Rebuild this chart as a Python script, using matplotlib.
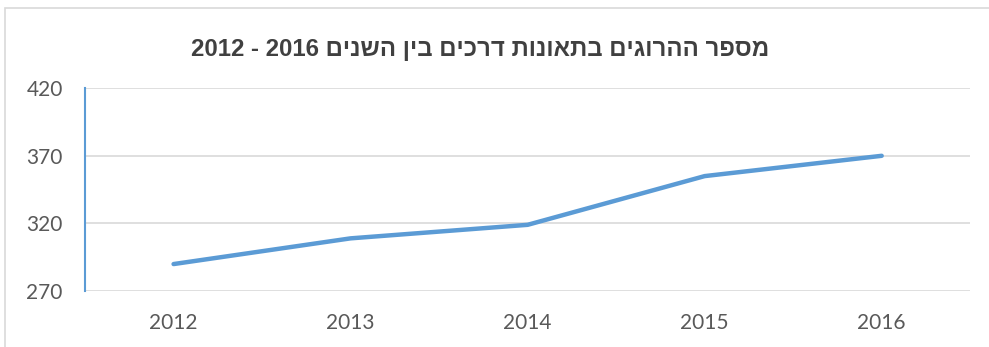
import matplotlib.pyplot as plt
from matplotlib.patches import Rectangle

# data
years = ['2012', '2013', '2014', '2015', '2016']
deaths = [290, 309, 319, 355, 370]
yticks = [270, 320, 370, 420]

title_heb = "מספר ההרוגים בתאונות דרכים בין השנים"
# matplotlib has no bidi support, so put the hebrew in visual order
title = "2012 - 2016 " + title_heb[::-1]

fig = plt.figure(figsize=(9.89, 3.47), dpi=100)
ax = fig.add_axes([0.086, 0.161, 0.895, 0.585])

ax.plot(range(len(years)), deaths, color='#5B9BD5', lw=3.2, solid_capstyle='round')

ax.set_xlim(-0.5, len(years) - 0.5)
ax.set_ylim(270, 420)
ax.set_yticks(yticks)
ax.set_xticks(range(len(years)))
ax.set_xticklabels(years)
ax.grid(axis='y', color='#D9D9D9', lw=1.2)
ax.set_axisbelow(True)

for s in ['top', 'right', 'bottom']:
    ax.spines[s].set_visible(False)
ax.spines['left'].set_color('#5B9BD5')
ax.spines['left'].set_linewidth(1.5)

ax.tick_params(length=0, labelcolor='#595959', labelsize=15)
ax.tick_params(axis='y', pad=16)
ax.tick_params(axis='x', pad=16)
for lab in ax.get_xticklabels() + ax.get_yticklabels():
    lab.set_family(['Lato', 'DejaVu Sans'])

fig.text(0.485, 0.857, title, ha='center', va='center', fontsize=17.3,
         fontweight='bold', color='#404040',
         family=['Liberation Sans', 'DejaVu Sans'])

# light chart border
fig.patches.append(Rectangle((5 / 989, -0.1), 1.0, 1 - 8 / 347 + 0.1,
                             transform=fig.transFigure, fill=False,
                             edgecolor='#D9D9D9', lw=1.2))

fig.savefig('out.png', dpi=100)
